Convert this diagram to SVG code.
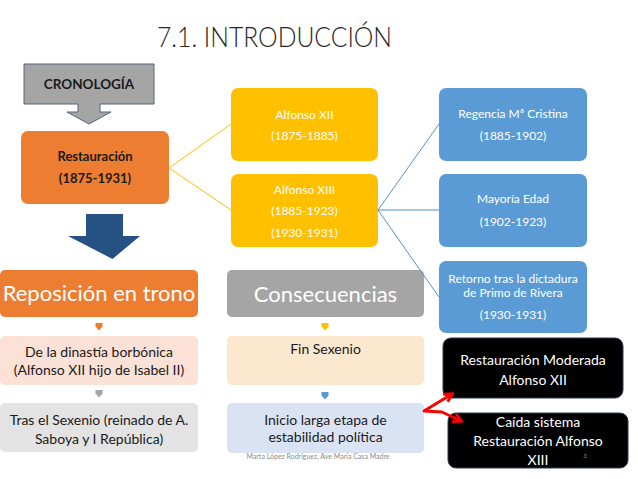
<svg xmlns="http://www.w3.org/2000/svg" width="638" height="479" viewBox="0 0 638 479">
<defs>
<style>
text{font-family:Lato,"Liberation Sans",sans-serif;text-anchor:middle}
.title{font-size:28px;font-weight:300;fill:#262626}
.bold{font-weight:bold;fill:#1a1a1a}
.w12{font-size:12px;fill:#ffffff}
.d14{font-size:14px;fill:#1a1a1a}
.big{font-size:22px;fill:#ffffff}
.blk{font-size:14px;fill:#ffffff}
.foot{font-size:7px;fill:#8c8c8c}
.yl{stroke:#FFC000;stroke-width:1;fill:none}
.bl{stroke:#5B8FC7;stroke-width:1;fill:none}
.red{stroke:#FF0000;stroke-width:3;fill:none;stroke-linejoin:round}
</style>
<marker id="ra" viewBox="0 0 10 10" refX="8" refY="5" markerWidth="11" markerHeight="11" orient="auto-start-reverse" markerUnits="userSpaceOnUse">
<path d="M1,1 L8.5,5 L1,9" fill="none" stroke="#FF0000" stroke-width="2.6" stroke-linejoin="miter"/>
</marker>
<path id="sa" d="M-3.5,0 H3.5 V3.5 L0,7.5 L-3.5,3.5 Z"/>
</defs>
<rect width="638" height="479" fill="#ffffff"/>
<text class="title" x="274.5" y="47" textLength="235" lengthAdjust="spacingAndGlyphs">7.1. INTRODUCCIÓN</text>

<g id="cronologia">
<path d="M24,64 H154 V104 H100 V112 H111 L89,124 L67,112 H78 V104 H24 Z" fill="#A5A5A5" stroke="#56647D" stroke-width="1"/>
<text class="bold" x="89" y="89" style="font-size:13.5px">CRONOLOGÍA</text>
</g>

<g id="restauracion">
<rect x="21" y="131" width="148" height="73" rx="7" fill="#ED7D31"/>
<text class="bold" x="95" y="161" style="font-size:13px">Restauración</text>
<text class="bold" x="95" y="183" style="font-size:13px">(1875-1931)</text>
</g>

<g id="alfonso12">
<rect x="231" y="88" width="147" height="73" rx="7" fill="#FFC000"/>
<text class="w12" x="304.5" y="119">Alfonso XII</text>
<text class="w12" x="304.5" y="140">(1875-1885)</text>
</g>

<g id="alfonso13">
<rect x="231" y="174" width="147" height="73" rx="7" fill="#FFC000"/>
<text class="w12" x="304.5" y="194">Alfonso XIII</text>
<text class="w12" x="304.5" y="215">(1885-1923)</text>
<text class="w12" x="304.5" y="237">(1930-1931)</text>
</g>

<g id="regencia">
<rect x="439" y="88" width="148" height="73" rx="7" fill="#5B9BD5"/>
<text class="w12" x="513" y="118">Regencia Mª Cristina</text>
<text class="w12" x="513" y="140">(1885-1902)</text>
</g>

<g id="mayoria">
<rect x="439" y="174" width="148" height="73" rx="7" fill="#5B9BD5"/>
<text class="w12" x="513" y="203">Mayoría Edad</text>
<text class="w12" x="513" y="226">(1902-1923)</text>
</g>

<g id="retorno">
<rect x="439" y="261" width="148" height="72" rx="7" fill="#5B9BD5"/>
<text class="w12" x="513" y="283">Retorno tras la dictadura</text>
<text class="w12" x="513" y="297">de Primo de Rivera</text>
<text class="w12" x="513" y="319">(1930-1931)</text>
</g>

<g id="reposicion">
<rect x="0" y="270" width="198" height="47" rx="5" fill="#ED7D31"/>
<text class="big" x="99" y="301">Reposición en trono</text>
</g>

<g id="dinastia">
<rect x="0" y="336" width="198" height="49" rx="5" fill="#FBE1D6"/>
<text class="d14" x="99" y="357">De la dinastía borbónica</text>
<text class="d14" x="99" y="375">(Alfonso XII hijo de Isabel II)</text>
</g>

<g id="sexenio">
<rect x="0" y="403" width="198" height="49" rx="5" fill="#E3E3E3"/>
<text class="d14" x="99" y="425">Tras el Sexenio (reinado de A.</text>
<text class="d14" x="99" y="444">Saboya y I República)</text>
</g>

<g id="consecuencias">
<rect x="227" y="270" width="197" height="47" rx="5" fill="#A5A5A5"/>
<text class="big" x="325.5" y="302">Consecuencias</text>
</g>

<g id="finsexenio">
<rect x="227" y="336" width="197" height="49" rx="5" fill="#FCE8CF"/>
<text class="d14" x="325.5" y="354">Fin Sexenio</text>
</g>

<g id="inicio">
<rect x="227" y="403" width="197" height="50" rx="5" fill="#DAE3F3"/>
<text class="d14" x="325.5" y="425">Inicio larga etapa de</text>
<text class="d14" x="325.5" y="442">estabilidad política</text>
</g>

<g id="moderada">
<rect x="443" y="338" width="180" height="60" rx="8" fill="#000000" stroke="#2F3B52" stroke-width="1"/>
<text class="blk" x="533" y="365">Restauración Moderada</text>
<text class="blk" x="533" y="385">Alfonso XII</text>
</g>

<g id="caida">
<rect x="448" y="413" width="180" height="55" rx="8" fill="#000000" stroke="#2F3B52" stroke-width="1"/>
<text class="blk" x="538" y="427">Caída sistema</text>
<text class="blk" x="538" y="446">Restauración  Alfonso</text>
<text class="blk" x="538" y="465">XIII</text>
<text x="585" y="458" style="font-size:6px;fill:#8c8c8c">3</text>
</g>

<text class="foot" x="318" y="459">Marta López Rodríguez, Ave María Casa Madre</text>

<g id="connectors">
<line class="yl" x1="169" y1="168" x2="231" y2="124"/>
<line class="yl" x1="169" y1="168" x2="231" y2="210"/>
<line class="bl" x1="378" y1="210" x2="439" y2="124"/>
<line class="bl" x1="378" y1="210" x2="439" y2="210"/>
<line class="bl" x1="378" y1="210" x2="439" y2="297"/>
<path d="M102,214 H123 V236 H140 L112.5,259 L68,236 H86 V214 Z" fill="#255283"/>
<use href="#sa" x="99" y="323" fill="#ED7D31"/>
<use href="#sa" x="99" y="390" fill="#A5A5A5"/>
<use href="#sa" x="325" y="323" fill="#FFC000"/>
<use href="#sa" x="325" y="392" fill="#5B9BD5"/>
<path class="red" d="M452,394 L424,411 L442,412 L461,421" marker-start="url(#ra)" marker-end="url(#ra)"/>
</g>
</svg>
